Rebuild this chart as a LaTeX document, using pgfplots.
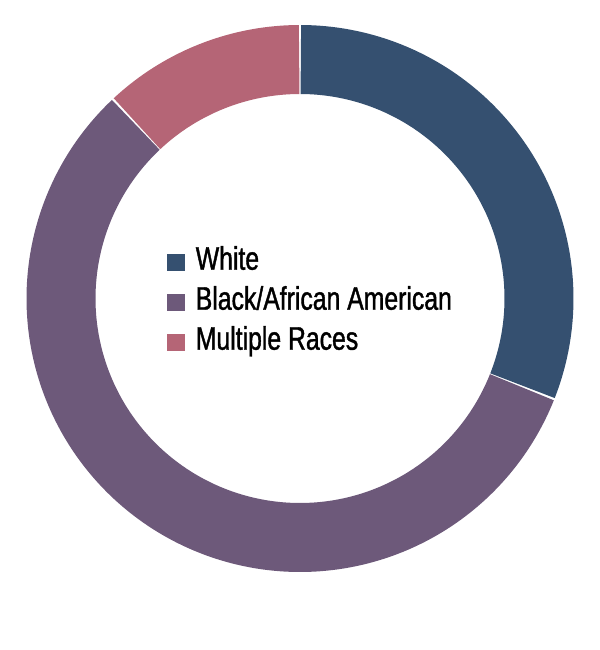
\documentclass[border=0pt]{standalone}
\usepackage{fontspec}
\setmainfont{Liberation Sans}[FakeStretch=0.76,FakeBold=1.2]
\usepackage{pgfplots}
\usepackage{pgfplotstable}
\pgfplotsset{compat=1.18}
\definecolor{colW}{HTML}{355070}
\definecolor{colB}{HTML}{6D597A}
\definecolor{colM}{HTML}{B56576}
\pgfplotstableread{
group share
White 31
Black 57
Multiple 12
}\racedata
\pgfplotstablegetelem{0}{share}\of\racedata \let\sW\pgfplotsretval
\pgfplotstablegetelem{1}{share}\of\racedata \let\sB\pgfplotsretval
\pgfplotstablegetelem{2}{share}\of\racedata \let\sM\pgfplotsretval
\pgfmathsetmacro\aA{90}
\pgfmathsetmacro\aB{\aA-3.6*\sW}
\pgfmathsetmacro\aC{\aB-3.6*\sB}
\pgfmathsetmacro\aD{\aC-3.6*\sM}
\pgfmathsetmacro\gap{0.2}
\begin{document}
\begin{tikzpicture}
\begin{axis}[
  x=0.5pt, y=0.5pt,
  xmin=-300, xmax=300, ymin=-351.5, ymax=298.5,
  hide axis, clip=false,
  legend cell align=left,
  legend image code/.code={\fill[#1,draw=none] (0pt,-0.5pt) rectangle (9pt,8pt);},
  legend style={draw=none, fill=none, at={(0.278,0.622)}, anchor=north west,
    inner sep=0pt, outer sep=0pt, row sep=5pt, column sep=0pt,
    font=\fontsize{16.3}{18}\selectfont,
    nodes={inner sep=0pt, text height=12pt, text depth=3pt, anchor=base west},
    /tikz/every odd column/.style={column sep=5.5pt}},
]
\addplot[colW, line width=34.5pt, domain=\aB+\gap:\aA-\gap, samples=150, variable=\t]
  ({239*cos(\t)},{239*sin(\t)});
\addlegendentry{White}
\addplot[colB, line width=34.5pt, domain=\aC+\gap:\aB-\gap, samples=250, variable=\t]
  ({239*cos(\t)},{239*sin(\t)});
\addlegendentry{Black/African American}
\addplot[colM, line width=34.5pt, domain=\aD+\gap:\aC-\gap, samples=80, variable=\t]
  ({239*cos(\t)},{239*sin(\t)});
\addlegendentry{Multiple Races}
\end{axis}
\path (current axis.south west) rectangle (current axis.north east);
\end{tikzpicture}
\end{document}
